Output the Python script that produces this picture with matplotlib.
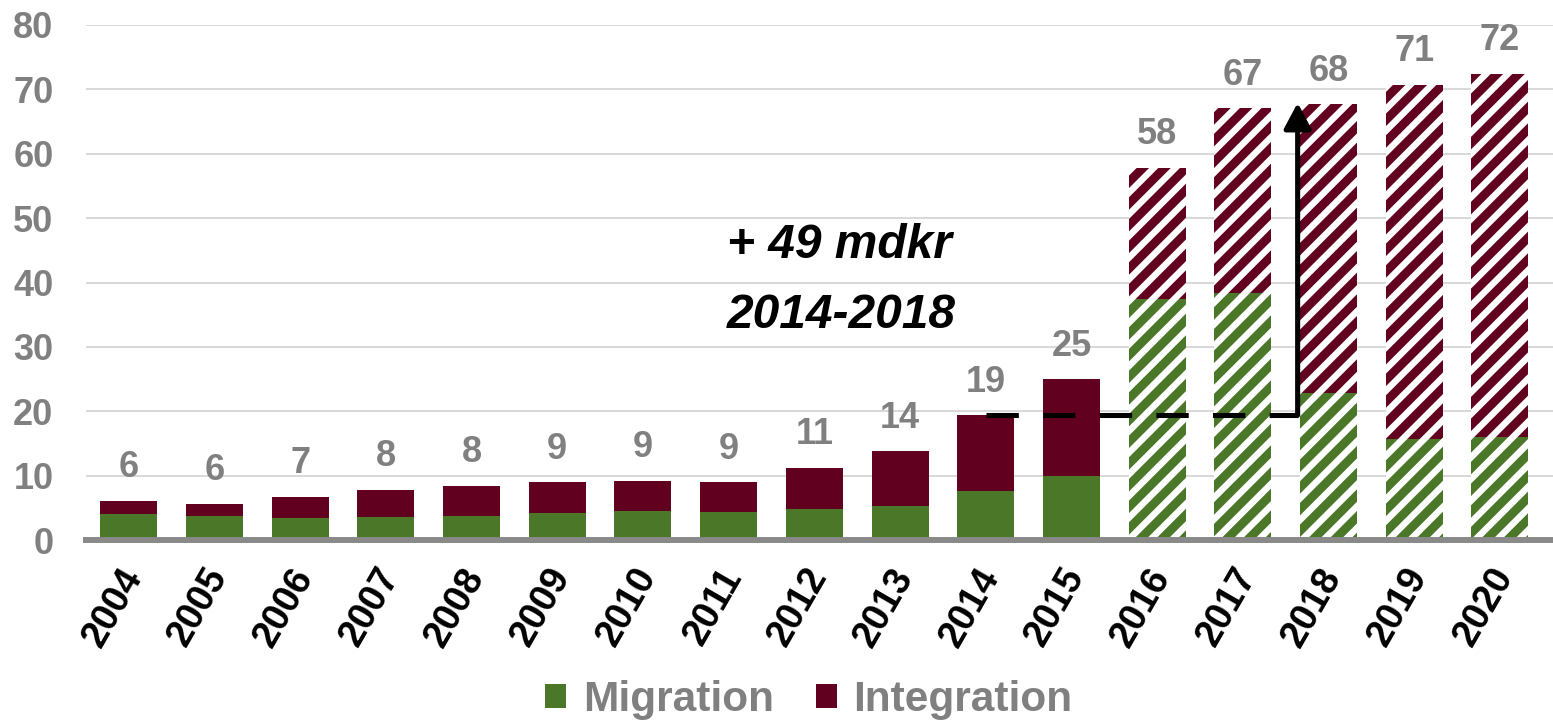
import matplotlib
matplotlib.use("Agg")
import matplotlib.pyplot as plt
import matplotlib.transforms as mtransforms
from matplotlib.patches import Patch

plt.rcParams['font.family'] = ['Liberation Sans', 'DejaVu Sans']
plt.rcParams['hatch.linewidth'] = 3.6

years = ['2004', '2005', '2006', '2007', '2008', '2009', '2010', '2011', '2012',
         '2013', '2014', '2015', '2016', '2017', '2018', '2019', '2020']
migration = [4.0, 3.7, 3.4, 3.6, 3.7, 4.2, 4.5, 4.3, 4.8, 5.3, 7.6, 9.9,
             37.4, 38.4, 22.8, 15.7, 16.0]
integration = [2.1, 1.9, 3.3, 4.2, 4.7, 4.8, 4.7, 4.7, 6.4, 8.5, 11.8, 15.1,
               20.4, 28.7, 44.9, 55.0, 56.4]
total_labels = ['6', '6', '7', '8', '8', '9', '9', '9', '11', '14', '19', '25',
                '58', '67', '68', '71', '72']
n_actual = 12  # 2004-2015 solid, 2016-2020 forecast (hatched)

green = '#4B7729'
red = '#61001F'
gray = '#808080'

dpi = 130
fig = plt.figure(figsize=(1553/dpi, 722/dpi), dpi=dpi)
ax = fig.add_axes([86/1553, 1-540/722, 1467/1553, 515/722])

x = list(range(len(years)))
w = 0.665
for i in x:
    if i < n_actual:
        ax.bar(i, migration[i], w, color=green, lw=0, zorder=2)
        ax.bar(i, integration[i], w, bottom=migration[i], color=red, lw=0, zorder=2)
    else:
        ax.bar(i, migration[i], w, color=green, edgecolor='white', hatch='//', lw=0, zorder=2)
        ax.bar(i, integration[i], w, bottom=migration[i], color=red, edgecolor='white', hatch='//', lw=0, zorder=2)
    tot = migration[i] + integration[i]
    ax.annotate(total_labels[i], (i, tot), xytext=(0, 18.3), textcoords='offset points',
                ha='center', va='center', fontsize=20, fontweight='bold', color=gray)

ax.set_xlim(-0.5, 16.62)
ax.set_ylim(0, 80)
ax.set_yticks(range(0, 81, 10))
ax.yaxis.grid(True, color='#D9D9D9', lw=1.1, zorder=0)
ax.set_axisbelow(True)
for s in ax.spines.values():
    s.set_visible(False)
ax.tick_params(axis='both', length=0)
ax.tick_params(axis='y', pad=18, labelsize=20, labelcolor=gray)
for t in ax.get_yticklabels():
    t.set_fontweight('bold')
ax.set_xticks(x)
ax.set_xticklabels(years, rotation=60, ha='right', va='center', rotation_mode='anchor',
                   fontsize=21, fontweight='bold', color='black')
ax.tick_params(axis='x', pad=17)
shift = mtransforms.ScaledTranslation(5/dpi, 0, fig.dpi_scale_trans)
for t in ax.get_xticklabels():
    t.set_transform(t.get_transform() + shift)
ax.axhline(0, color='#898989', lw=3.3, zorder=4, clip_on=False)

# +49 mdkr change 2014-2018
base = migration[10] + integration[10]
ax.plot([10, 13.64], [base, base], color='black', lw=2.8, dashes=(6.4, 4.8), zorder=5)
ax.annotate('', xy=(13.64, 67.9), xytext=(13.64, base),
            arrowprops=dict(arrowstyle='-|>,head_length=0.6,head_width=0.32', lw=2.8,
                            color='black', mutation_scale=20, shrinkA=0, shrinkB=0),
            zorder=5)
ax.text(6.98, 45.8, '+ 49 mdkr', fontsize=26.5, fontweight='bold', style='italic',
        ha='left', va='center')
ax.text(6.98, 34.9, '2014-2018', fontsize=26.5, fontweight='bold', style='italic',
        ha='left', va='center')

handles = [Patch(facecolor=green, label='Migration'), Patch(facecolor=red, label='Integration')]
leg = fig.legend(handles=handles, loc='center', bbox_to_anchor=(809/1553, 1-700/722), ncol=2,
                 frameon=False, fontsize=23.5, handlelength=0.48, handleheight=0.48,
                 handletextpad=0.4, columnspacing=1.0)
for t in leg.get_texts():
    t.set_color(gray)
    t.set_fontweight('bold')

plt.savefig('out.png', dpi=dpi)
